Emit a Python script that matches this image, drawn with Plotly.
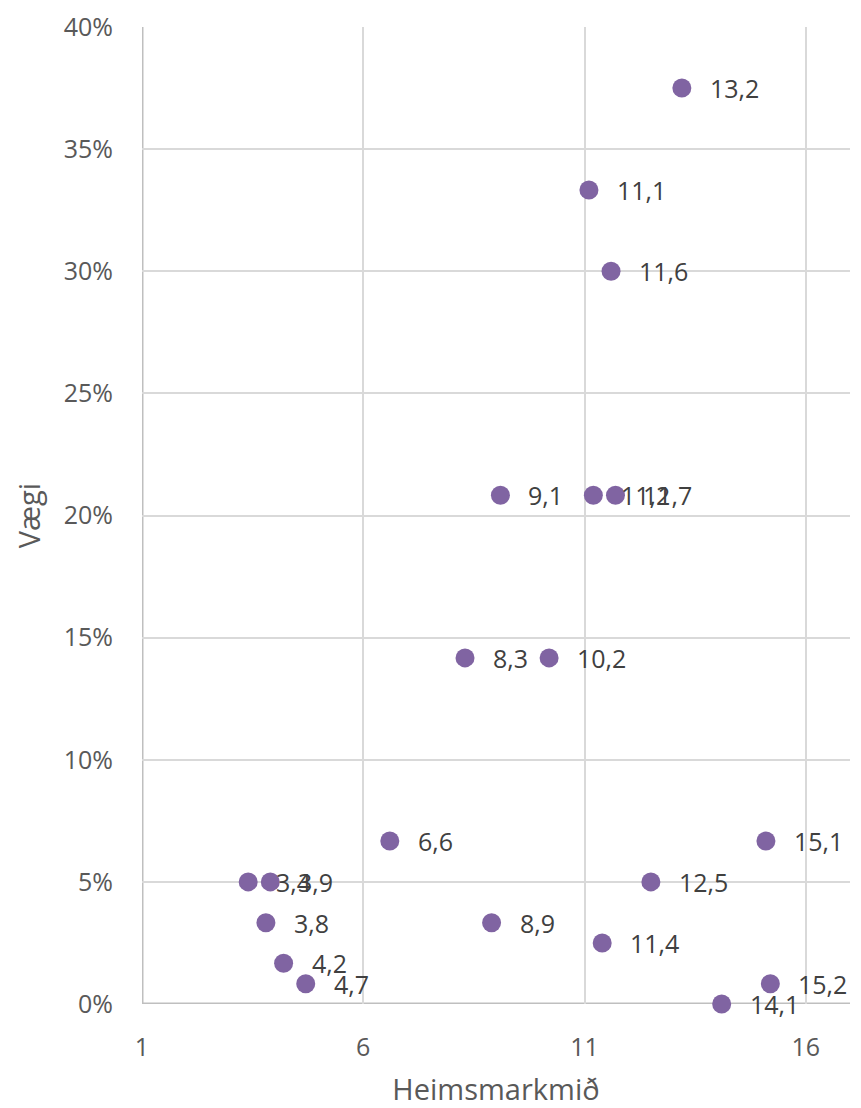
import plotly.graph_objects as go

goal = [13.2, 11.1, 11.6, 9.1, 11.2, 11.7, 8.3, 10.2, 6.6, 3.4, 3.9, 3.8, 4.2, 4.7, 8.9, 11.4, 12.5, 15.1, 15.2, 14.1]
weight = [0.375, 0.3333, 0.30, 0.2083, 0.2083, 0.2083, 0.1417, 0.1417, 0.0667, 0.05, 0.05, 0.0333, 0.0167, 0.0083, 0.0333, 0.025, 0.05, 0.0667, 0.0083, 0.0]
labels = ["13,2", "11,1", "11,6", "9,1", "11,2", "11,7", "8,3", "10,2", "6,6", "3,4", "3,9", "3,8", "4,2", "4,7", "8,9", "11,4", "12,5", "15,1", "15,2", "14,1"]
x_ticks = [1, 6, 11, 16]
y_ticks = [0, 0.05, 0.10, 0.15, 0.20, 0.25, 0.30, 0.35, 0.40]

FONT = "Open Sans"

fig = go.Figure()
fig.add_trace(go.Scatter(
    x=goal, y=weight, mode="markers",
    marker=dict(color="#8064a2", size=19),
    cliponaxis=False, showlegend=False,
))

for xv, yv, t in zip(goal, weight, labels):
    fig.add_annotation(x=xv, y=yv, text=t, showarrow=False, xanchor="left", yanchor="middle",
                       xshift=26, font=dict(family=FONT, size=25, color="#404040"))

fig.update_layout(
    width=853, height=1100,
    margin=dict(l=134, r=11, t=19, b=104),
    paper_bgcolor="white", plot_bgcolor="white",
    font=dict(family=FONT, color="#595959"),
    xaxis=dict(range=[1, 17], tickvals=x_ticks, showgrid=True, gridcolor="#d9d9d9", gridwidth=2,
               zeroline=False, showline=False, ticks="", tickfont=dict(size=25, color="#595959"),
               ticklabelstandoff=26, automargin=False,
               title=dict(text="Heimsmarkmið", font=dict(size=29, color="#595959"), standoff=18)),
    yaxis=dict(range=[0, 0.40], tickvals=y_ticks, tickformat=".0%", showgrid=True, gridcolor="#d9d9d9",
               gridwidth=2, zeroline=False, showline=False, ticks="", tickfont=dict(size=25, color="#595959"),
               ticklabelstandoff=28, automargin=False,
               title=dict(text="Vægi", font=dict(size=29, color="#595959"), standoff=14)),
)
fig.add_shape(type="line", xref="x", yref="paper", x0=1, x1=1, y0=0, y1=1,
              line=dict(color="#bfbfbf", width=3), layer="below")
fig.add_shape(type="line", xref="paper", yref="y", x0=0, x1=1, y0=0, y1=0,
              line=dict(color="#bfbfbf", width=3), layer="below")

fig.write_html("out.html")
